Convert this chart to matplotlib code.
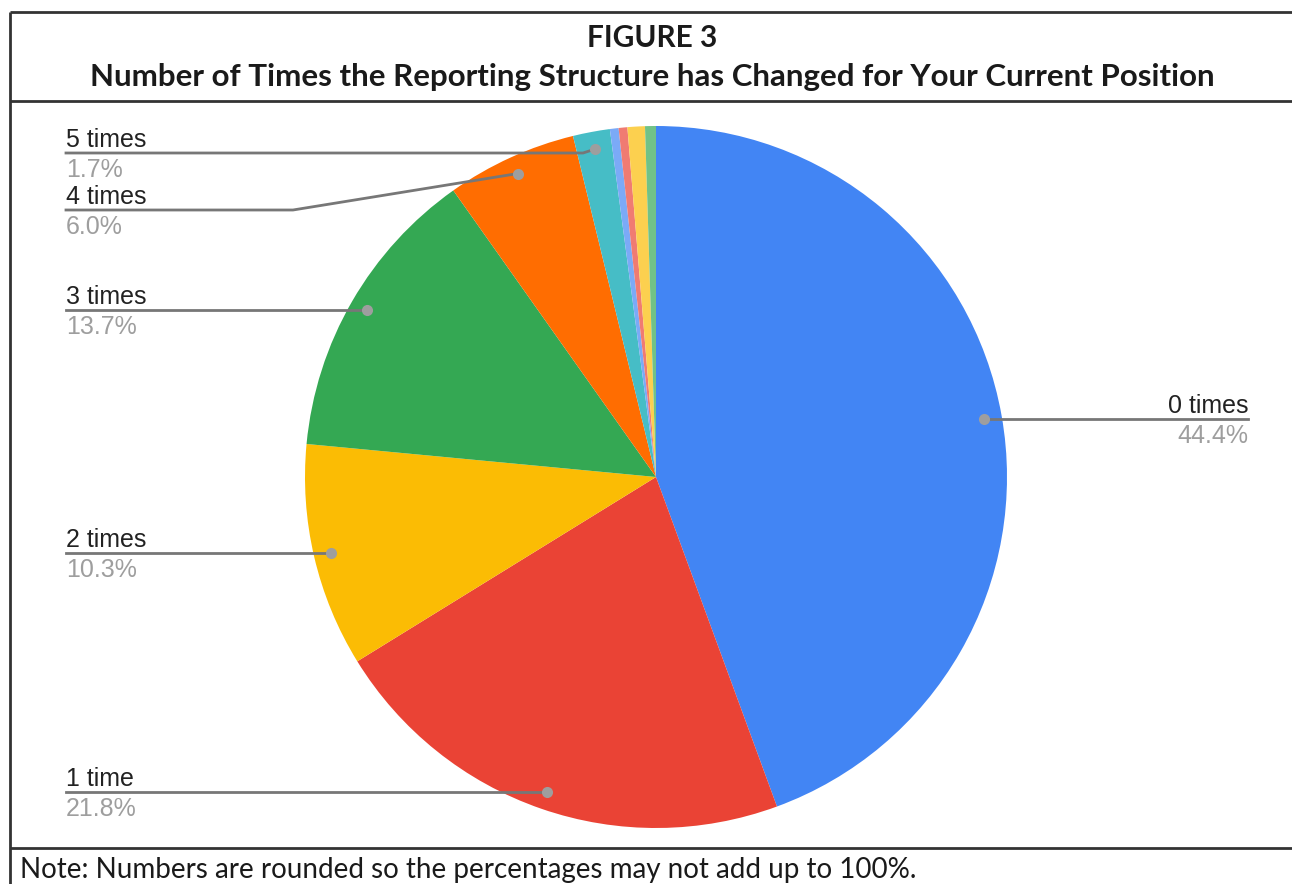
import numpy as np
import matplotlib.pyplot as plt

# ---- data -------------------------------------------------------------
categories = ['0 times', '1 time', '2 times', '3 times', '4 times', '5 times',
              '6 times', '7 times', '8 times', '9+ times']
shares = [44.4, 21.8, 10.3, 13.7, 6.0, 1.7, 0.4, 0.4, 0.8, 0.5]
colors = ['#4285F4', '#EA4335', '#FBBC04', '#34A853', '#FF6D01', '#46BDC6',
          '#7BAAF7', '#F07B72', '#FCD04F', '#71C287']
n_labeled = 6

# ---- layout (pixels, y measured from top) -----------------------------
W, H = 1292, 884
cx, cy, R = 656, 477, 351
label_y = [419, 791, 551, 309, 210, 153]
elbow_x = [None, None, None, None, 293, 583]
left_x, right_x = 66, 1248

fig = plt.figure(figsize=(W / 100, H / 100), dpi=100)
ax = fig.add_axes([0, 0, 1, 1])

def Y(y):
    return H - y

# pie
wedges, _ = ax.pie(shares, colors=colors, startangle=90, counterclock=False,
                   center=(cx, Y(cy)), radius=R, wedgeprops=dict(linewidth=0),
                   frame=True)
ax.set_xlim(0, W)
ax.set_ylim(0, H)
ax.set_aspect('equal')
ax.axis('off')

# frame lines
line_kw = dict(color='#333333', lw=2, solid_capstyle='butt')
ax.plot([10, W], [Y(12), Y(12)], **line_kw)
ax.plot([10, W], [Y(101), Y(101)], **line_kw)
ax.plot([10, W], [Y(848), Y(848)], **line_kw)
ax.plot([10, 10], [Y(12), 0], **line_kw)

# titles
title_font = dict(family=['Lato', 'DejaVu Sans'], weight='bold', color='#1a1a1a')
ax.text(W / 2 + 6, Y(38), 'FIGURE 3', ha='center', va='center', fontsize=21.5, **title_font)
ax.text(W / 2 + 6, Y(77), 'Number of Times the Reporting Structure has Changed for Your Current Position',
        ha='center', va='center', fontsize=22.5, **title_font)

# leader lines and labels
label_font = dict(family=['Liberation Sans', 'DejaVu Sans'], fontsize=18)
for i in range(n_labeled):
    w = wedges[i]
    mid = np.deg2rad((w.theta1 + w.theta2) / 2)
    dx = cx + 0.95 * R * np.cos(mid)
    dy = Y(cy) + 0.95 * R * np.sin(mid)
    ly = Y(label_y[i])
    if dx > cx:
        xs, ys = [dx, right_x], [dy, dy]
        tx, ha = right_x, 'right'
    elif elbow_x[i] is None:
        xs, ys = [dx, left_x], [dy, dy]
        tx, ha = left_x, 'left'
    else:
        xs, ys = [dx, elbow_x[i], left_x], [dy, ly, ly]
        tx, ha = left_x, 'left'
    ty = ys[-1]
    ax.plot(xs, ys, color='#777777', lw=2, zorder=3)
    ax.plot(dx, dy, 'o', color='#9E9E9E', ms=8, mec='none', zorder=4)
    ax.text(tx, ty + 6, categories[i], ha=ha, va='baseline', color='#222222', **label_font)
    ax.text(tx, ty - 24, f'{shares[i]:.1f}%', ha=ha, va='baseline', color='#9E9E9E', **label_font)

# footnote
ax.text(20, Y(870), 'Note: Numbers are rounded so the percentages may not add up to 100%.',
        ha='left', va='center', fontsize=20, family=['Lato', 'DejaVu Sans'], color='#1a1a1a')

fig.savefig('out.png', dpi=100)
